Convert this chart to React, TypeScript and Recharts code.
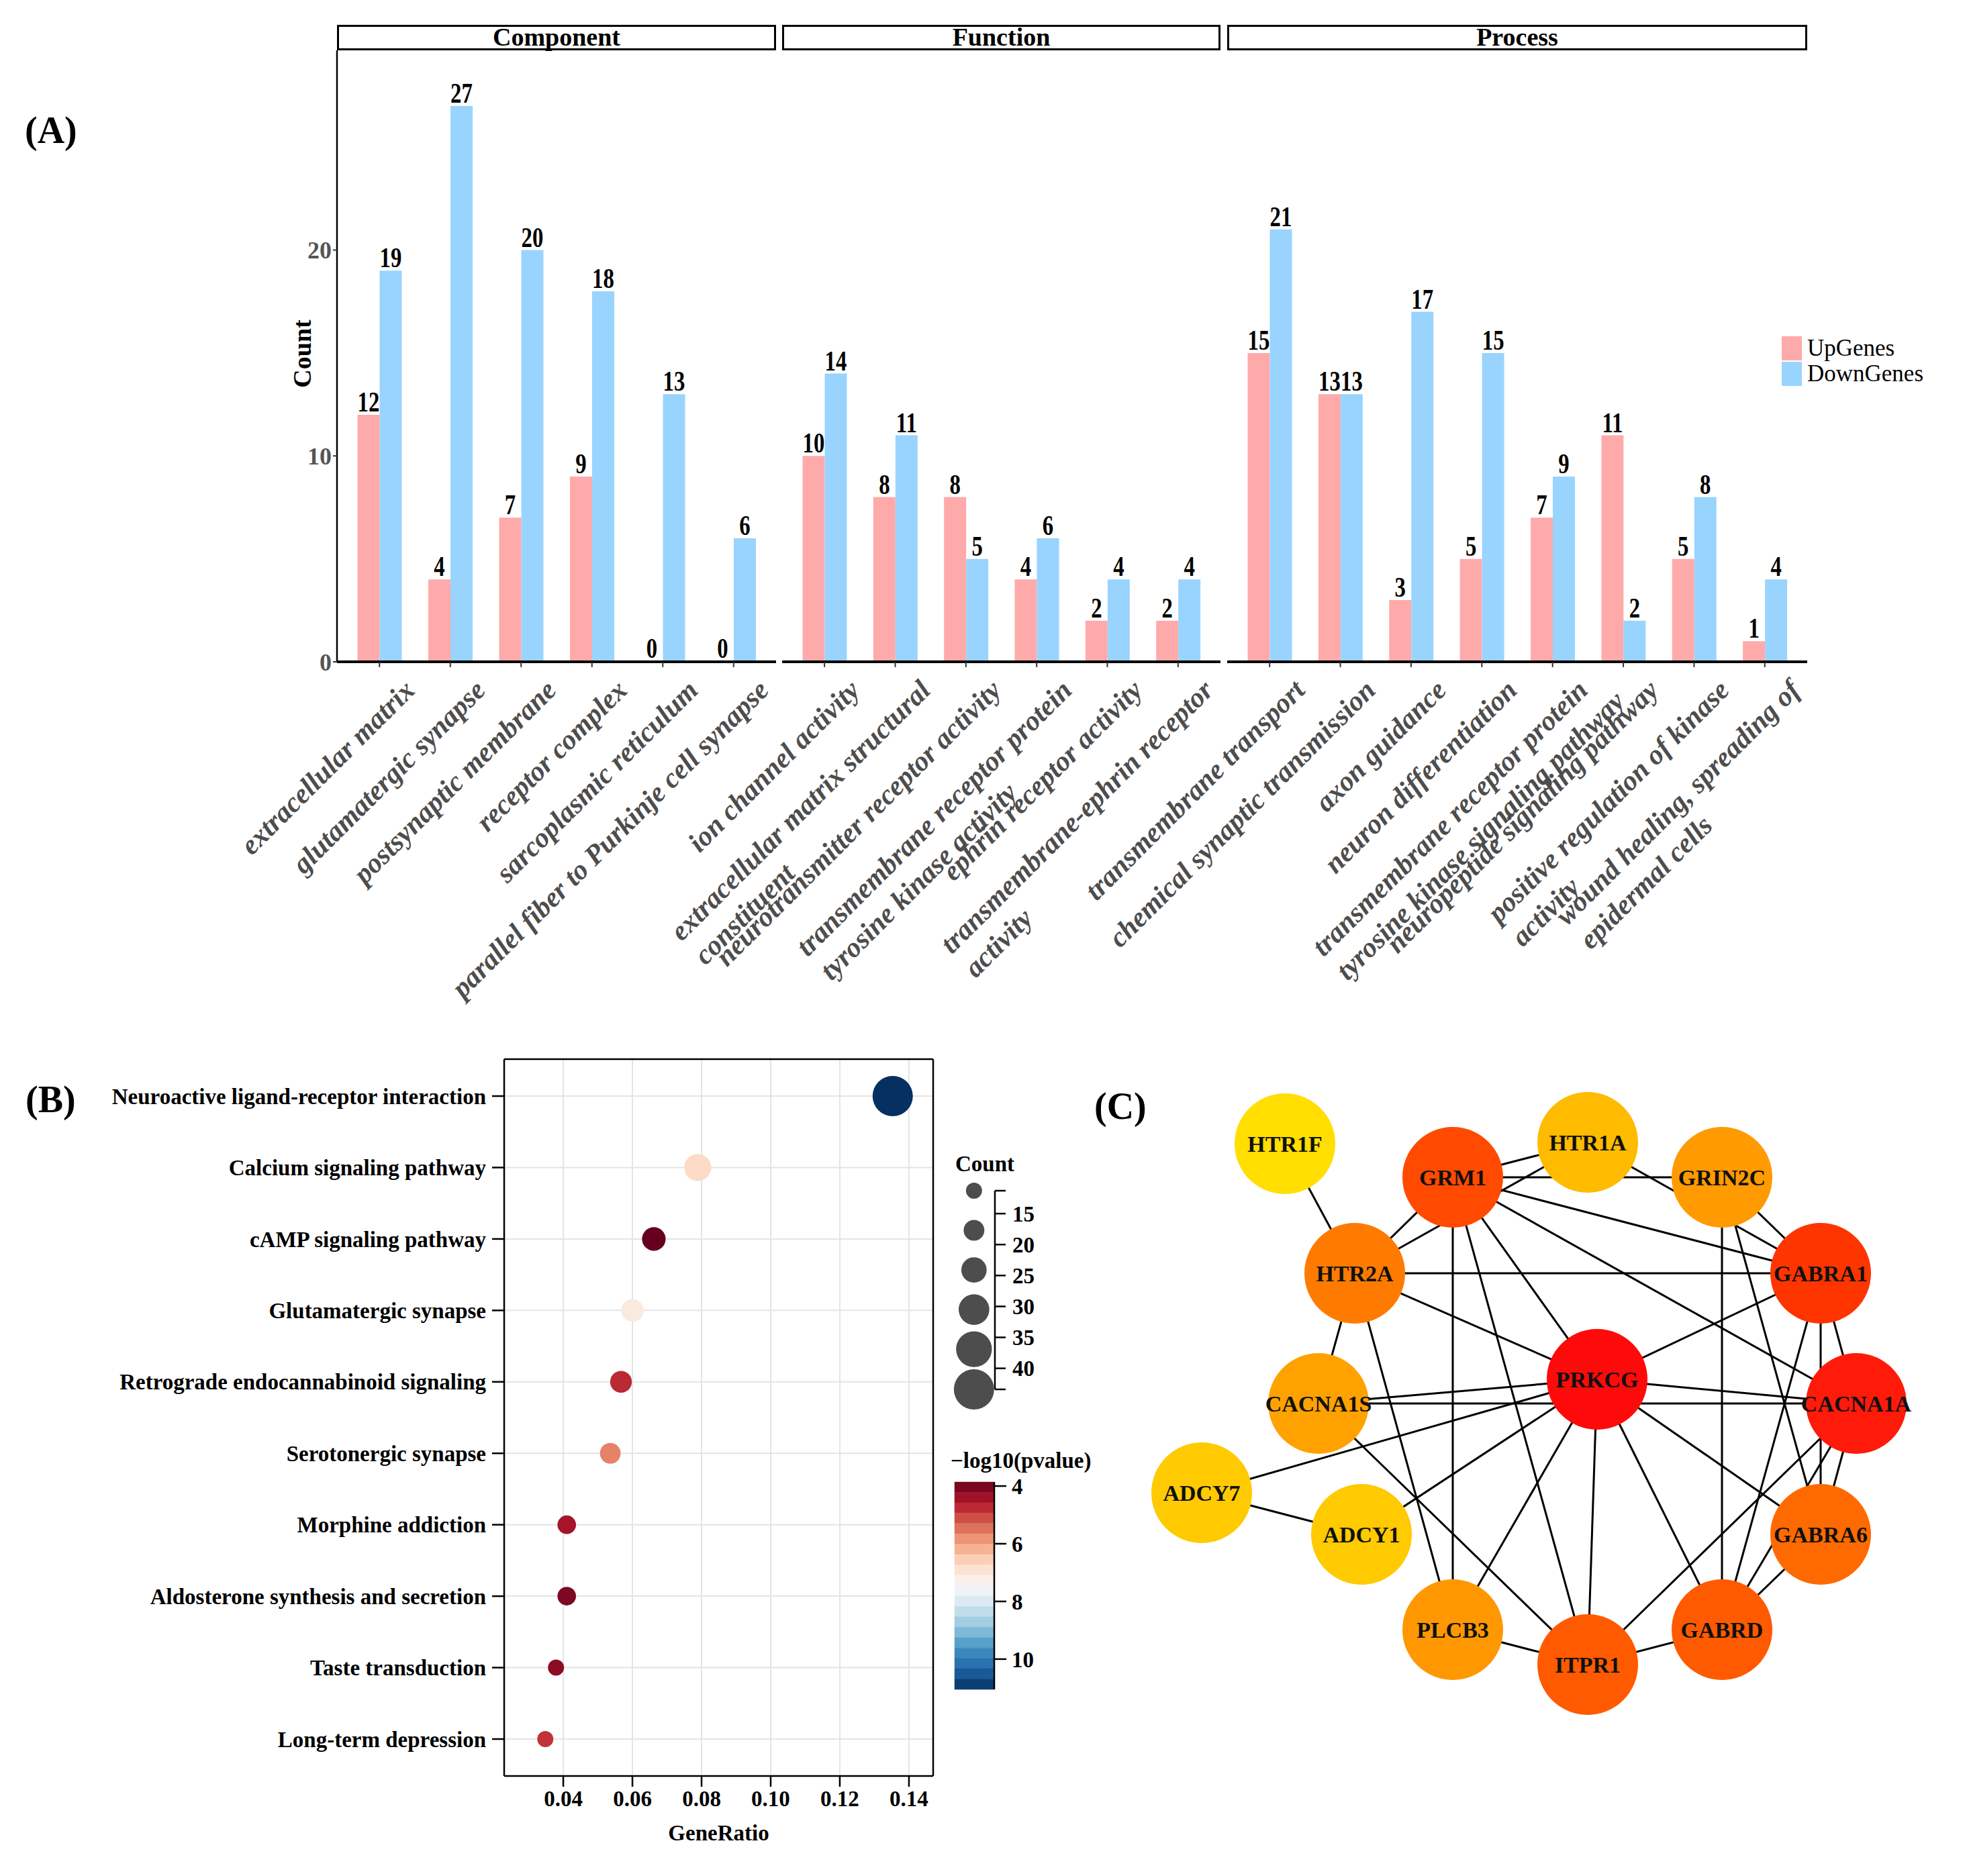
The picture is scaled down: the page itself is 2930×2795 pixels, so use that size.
import React from 'react';
import {
  BarChart, Bar, XAxis, YAxis, LabelList, Legend,
  ScatterChart, Scatter, ZAxis, Cell, CartesianGrid, ReferenceLine, ReferenceArea,
} from 'recharts';

const FONT = '"Liberation Serif", "Times New Roman", serif';

// ---------- (A) GO terms: up / down gene counts ----------
const componentTerms = [
  'extracellular matrix', 'glutamatergic synapse', 'postsynaptic membrane',
  'receptor complex', 'sarcoplasmic reticulum', 'parallel fiber to Purkinje cell synapse',
];
const componentUp = [12, 4, 7, 9, 0, 0];
const componentDown = [19, 27, 20, 18, 13, 6];

const functionTerms = [
  'ion channel activity', 'extracellular matrix structural\nconstituent',
  'neurotransmitter receptor activity', 'transmembrane receptor protein\ntyrosine kinase activity',
  'ephrin receptor activity', 'transmembrane-ephrin receptor\nactivity',
];
const functionUp = [10, 8, 8, 4, 2, 2];
const functionDown = [14, 11, 5, 6, 4, 4];

const processTerms = [
  'transmembrane transport', 'chemical synaptic transmission', 'axon guidance',
  'neuron differentiation', 'transmembrane receptor protein\ntyrosine kinase signaling pathway',
  'neuropeptide signaling pathway', 'positive regulation of kinase\nactivity',
  'wound healing, spreading of\nepidermal cells',
];
const processUp = [15, 13, 3, 5, 7, 11, 5, 1];
const processDown = [21, 13, 17, 15, 9, 2, 8, 4];

const countTicks = [0, 10, 20];
const legendOrder = ['UpGenes', 'DownGenes'];

// ---------- (B) KEGG dot plot ----------
const keggTerms = [
  'Neuroactive ligand-receptor interaction', 'Calcium signaling pathway', 'cAMP signaling pathway',
  'Glutamatergic synapse', 'Retrograde endocannabinoid signaling', 'Serotonergic synapse',
  'Morphine addiction', 'Aldosterone synthesis and secretion', 'Taste transduction', 'Long-term depression',
];
const keggRatio = [0.1353, 0.0789, 0.0662, 0.06, 0.0567, 0.0536, 0.041, 0.041, 0.0379, 0.0348];
const keggCount = [43, 22, 18, 17, 16, 15, 13, 13, 11, 11];
const keggLogP = [11.05, 6.74, 3.86, 7.1, 4.75, 5.65, 4.45, 4.08, 4.22, 4.85];
const ratioTicks = [0.04, 0.06, 0.08, 0.1, 0.12, 0.14];

const sizeLegendPos = [11.3, 17.7, 24.1, 30.5, 36.9, 43.4];
const sizeLegendCount = [11, 15, 20, 27, 35, 43];
const sizeLegendTicks = [11.3, 15, 20, 25, 30, 35, 40, 43.4];
const pTicks = [4, 6, 8, 10];

// ---------- (C) PPI network ----------
const nodeNames = ['HTR1F', 'HTR1A', 'GRM1', 'GRIN2C', 'HTR2A', 'GABRA1', 'PRKCG', 'CACNA1S',
  'CACNA1A', 'ADCY7', 'ADCY1', 'GABRA6', 'PLCB3', 'GABRD', 'ITPR1'];
const nodeX = [214, 665, 464, 865, 318, 1012, 679, 264, 1065, 90, 328, 1012, 464, 865, 665];
const nodeY = [124, 122, 174, 174, 317, 317, 475, 511, 511, 644, 706, 706, 848, 848, 900];
const nodeColors = ['#FFDE00', '#FFBB00', '#FF4A00', '#FF9A00', '#FF7B00', '#FF3500', '#FF0A0A', '#FFA200',
  '#FF1A0A', '#FFCA00', '#FFCA00', '#FF6A00', '#FF9800', '#FF5A00', '#FF5A00'];
const edges: [string, string][] = [
  ['HTR1F', 'HTR2A'], ['GRM1', 'HTR1A'], ['GRM1', 'GRIN2C'], ['GRM1', 'HTR2A'], ['GRM1', 'GABRA1'],
  ['GRM1', 'CACNA1A'], ['GRM1', 'PRKCG'], ['GRM1', 'ITPR1'], ['GRM1', 'PLCB3'], ['HTR2A', 'HTR1A'],
  ['HTR1A', 'GABRA1'], ['HTR2A', 'GABRA1'], ['HTR2A', 'PRKCG'], ['HTR2A', 'CACNA1S'], ['HTR2A', 'PLCB3'],
  ['GRIN2C', 'GABRA1'], ['GRIN2C', 'GABRD'], ['GRIN2C', 'GABRA6'], ['GABRA1', 'PRKCG'], ['GABRA1', 'CACNA1A'],
  ['GABRA1', 'GABRA6'], ['GABRA1', 'GABRD'], ['CACNA1A', 'GABRA6'], ['CACNA1A', 'GABRD'], ['CACNA1A', 'ITPR1'],
  ['GABRA6', 'GABRD'], ['PRKCG', 'CACNA1A'], ['PRKCG', 'CACNA1S'], ['CACNA1S', 'CACNA1A'], ['PRKCG', 'ADCY7'],
  ['PRKCG', 'ADCY1'], ['PRKCG', 'PLCB3'], ['PRKCG', 'ITPR1'], ['PRKCG', 'GABRD'], ['PRKCG', 'GABRA6'],
  ['ADCY7', 'ADCY1'], ['CACNA1S', 'ITPR1'], ['PLCB3', 'ITPR1'], ['ITPR1', 'GABRD'],
];

// RdBu palette for -log10(pvalue)
const RDBU = ['#67001F', '#B2182B', '#D6604D', '#F4A582', '#FDDBC7', '#F7F7F7',
  '#D1E5F0', '#92C5DE', '#4393C3', '#2166AC', '#053061'];
const P_MIN = 3.86;
const P_MAX = 11.05;
const hexRgb = (c: string) => [1, 3, 5].map((i) => parseInt(c.slice(i, i + 2), 16));
function rdbu(t: number) {
  const s = Math.min(Math.max(t, 0), 1) * (RDBU.length - 1);
  const i = Math.min(Math.floor(s), RDBU.length - 2);
  const f = s - i;
  const a = hexRgb(RDBU[i]);
  const b = hexRgb(RDBU[i + 1]);
  return `rgb(${a.map((v, k) => Math.round(v + (b[k] - v) * f)).join(',')})`;
}
const pColor = (p: number) => rdbu((p - P_MIN) / (P_MAX - P_MIN));

const NBIN = 20;
const cbBands = Array.from({ length: NBIN }, (_, i) => {
  const step = (P_MAX - P_MIN) / NBIN;
  return { x: 0.5, lo: P_MIN + i * step, hi: P_MIN + (i + 1) * step, mid: P_MIN + (i + 0.5) * step, color: rdbu((i + 0.5) / NBIN) };
});

let measureCtx: CanvasRenderingContext2D | null = null;
function textWidth(s: string, font: string) {
  if (!measureCtx) measureCtx = document.createElement('canvas').getContext('2d');
  if (!measureCtx) return s.length * 18;
  measureCtx.font = font;
  return measureCtx.measureText(s).width;
}

const TICK_FONT = 42;
function TermTick(props: any) {
  const { x, y, payload } = props;
  const lines = String(payload.value).split('\n');
  const w = textWidth(lines[0], `italic bold ${TICK_FONT}px ${FONT}`);
  return (
    <g transform={`translate(${x + 34},${y + 14}) rotate(-45)`}>
      {lines.map((ln, i) => (
        <text
          key={i}
          x={i === 0 ? 0 : -w}
          y={TICK_FONT * 0.7 + i * TICK_FONT * 1.2}
          textAnchor={i === 0 ? 'end' : 'start'}
          fontFamily={FONT}
          fontStyle="italic"
          fontWeight="bold"
          fontSize={TICK_FONT}
          fill="#4D4D4D"
        >
          {ln}
        </text>
      ))}
    </g>
  );
}

// value label above each bar, slightly condensed like the original figure
function BarValue(props: any) {
  const { x, y, width, value } = props;
  if (value === undefined || value === null) return null;
  return (
    <text
      transform={`translate(${Number(x) + Number(width) / 2},${Number(y) - 5}) scale(0.78,1)`}
      textAnchor="middle"
      fontFamily={FONT}
      fontWeight="bold"
      fontSize={42}
      fill="#000"
    >
      {value}
    </text>
  );
}

const GeneLegend = ({ payload }: any) => {
  const items = [...(payload || [])].sort(
    (a: any, b: any) => legendOrder.indexOf(a.value) - legendOrder.indexOf(b.value),
  );
  return (
    <div style={{ fontFamily: FONT }}>
      {items.map((e: any) => (
        <div key={e.value} style={{ display: 'flex', alignItems: 'center', height: 38 }}>
          <span style={{ display: 'inline-block', width: 30, height: 36, background: e.color }} />
          <span style={{ fontSize: 35, marginLeft: 8, lineHeight: '38px', height: 38, color: '#000' }}>{e.value}</span>
        </div>
      ))}
    </div>
  );
};

const PLOT_TOP = 75;
const PLOT_H = 911;
const Y_MAX = 29.7;

function Facet(props: {
  title: string; terms: string[]; up: number[]; down: number[];
  left: number; plotLeft: number; plotW: number; showY?: boolean; legend?: boolean;
}) {
  const { title, terms, up, down, left, plotLeft, plotW, showY, legend } = props;
  const data = terms.map((t, i) => ({ term: t, up: up[i], down: down[i] }));
  const yW = showY ? 90 : 0;
  const mL = plotLeft - left - yW;
  const mR = legend ? 230 : 0;
  return (
    <>
      <div style={{
        position: 'absolute', left: plotLeft, top: 37, width: plotW, height: 38, boxSizing: 'border-box',
        border: '3.5px solid #000', fontFamily: FONT, fontWeight: 'bold', fontSize: 38, lineHeight: '31px',
        textAlign: 'center', whiteSpace: 'nowrap',
      }}>{title}</div>
      <div style={{ position: 'absolute', left, top: PLOT_TOP }}>
        <BarChart
          width={mL + yW + plotW + mR}
          height={PLOT_H + 554}
          data={data}
          margin={{ top: 0, right: mR, bottom: 0, left: mL }}
          barCategoryGap={20}
          barGap={0}
        >
          <XAxis
            dataKey="term"
            interval={0}
            height={554}
            tick={<TermTick />}
            tickSize={8}
            tickLine={{ stroke: '#333', strokeWidth: 2 }}
            axisLine={{ stroke: '#000', strokeWidth: 4 }}
            padding={{ left: 10.5, right: 10.5 }}
          />
          <YAxis
            hide={!showY}
            width={yW}
            domain={[0, Y_MAX]}
            ticks={countTicks}
            tickSize={6}
            tickLine={{ stroke: '#333', strokeWidth: 2 }}
            axisLine={{ stroke: '#000', strokeWidth: 2.5 }}
            tick={{ fontFamily: FONT, fontWeight: 'bold', fontSize: 36, fill: '#555' }}
          />
          {legend && (
            <Legend
              layout="horizontal"
              verticalAlign="middle"
              align="center"
              content={<GeneLegend />}
              wrapperStyle={{ position: 'absolute', left: 2654 - 1828, top: 500 - PLOT_TOP, width: 240 }}
            />
          )}
          <Bar dataKey="up" name="UpGenes" fill="#FFAAAA" minPointSize={1} isAnimationActive={false}>
            <LabelList dataKey="up" content={<BarValue />} />
          </Bar>
          <Bar dataKey="down" name="DownGenes" fill="#99D4FF" minPointSize={1} isAnimationActive={false}>
            <LabelList dataKey="down" content={<BarValue />} />
          </Bar>
        </BarChart>
      </div>
    </>
  );
}

const TXT = (p: { x: number; y: number; size: number; children: React.ReactNode }) => (
  <div style={{
    position: 'absolute', left: p.x, top: p.y, fontFamily: FONT, fontWeight: 'bold',
    fontSize: p.size, lineHeight: 1, whiteSpace: 'nowrap', color: '#000',
  }}>{p.children}</div>
);

function KeggDots() {
  const data = keggTerms.map((t, i) => ({ idx: i + 1, ratio: keggRatio[i], count: keggCount[i], p: keggLogP[i] }));
  const tickStyle = { fontFamily: FONT, fontWeight: 'bold', fontSize: 33, fill: '#000' };
  return (
    <div style={{ position: 'absolute', left: 140, top: 1560 }}>
      <ScatterChart width={1260} height={1196} margin={{ top: 18, right: 10, bottom: 0, left: 0 }}>
        <CartesianGrid stroke="#E4E4E4" strokeWidth={2} />
        <XAxis
          type="number"
          dataKey="ratio"
          domain={[0.0229, 0.147]}
          ticks={ratioTicks}
          interval={0}
          tickFormatter={(v: number) => v.toFixed(2)}
          height={110}
          tickSize={16}
          tickMargin={6}
          tick={tickStyle}
          tickLine={{ stroke: '#000', strokeWidth: 2.5 }}
          axisLine={{ stroke: '#000', strokeWidth: 2.5 }}
          label={{ value: 'GeneRatio', position: 'insideBottom', offset: 14, style: tickStyle }}
        />
        <YAxis
          type="number"
          dataKey="idx"
          domain={[0.483, 10.517]}
          reversed
          ticks={keggTerms.map((_, i) => i + 1)}
          interval={0}
          tickFormatter={(v: number) => keggTerms[v - 1] ?? ''}
          width={611}
          tickSize={18}
          tickMargin={9}
          tick={tickStyle}
          tickLine={{ stroke: '#000', strokeWidth: 2.5 }}
          axisLine={{ stroke: '#000', strokeWidth: 2.5 }}
        />
        <ZAxis type="number" dataKey="count" domain={[11, 43]} range={[452, 2827]} />
        <ReferenceLine y={0.483} stroke="#000" strokeWidth={2.5} />
        <ReferenceLine x={0.147} stroke="#000" strokeWidth={2.5} />
        <Scatter data={data} isAnimationActive={false}>
          {data.map((d, i) => <Cell key={i} fill={pColor(d.p)} />)}
        </Scatter>
      </ScatterChart>
    </div>
  );
}

function SizeLegend() {
  const data = sizeLegendPos.map((pos, i) => ({ x: 0.62, pos, count: sizeLegendCount[i] }));
  return (
    <div style={{ position: 'absolute', left: 1400, top: 1774 }}>
      <ScatterChart width={152} height={296} margin={{ top: 0, right: 0, bottom: 0, left: 0 }}>
        <XAxis type="number" dataKey="x" domain={[0, 1]} hide />
        <YAxis
          type="number"
          dataKey="pos"
          orientation="right"
          domain={[11.3, 43.4]}
          reversed
          ticks={sizeLegendTicks}
          interval={0}
          tickFormatter={(v: number) => (Number.isInteger(v) ? String(v) : '')}
          width={70}
          tickSize={16}
          tickMargin={10}
          tick={{ fontFamily: FONT, fontWeight: 'bold', fontSize: 33, fill: '#000' }}
          tickLine={{ stroke: '#000', strokeWidth: 2.5 }}
          axisLine={{ stroke: '#000', strokeWidth: 2.5 }}
        />
        <ZAxis type="number" dataKey="count" domain={[11, 43]} range={[452, 2827]} />
        <Scatter data={data} fill="#4D4D4D" isAnimationActive={false} />
      </ScatterChart>
    </div>
  );
}

function ColorBar() {
  return (
    <div style={{ position: 'absolute', left: 1422, top: 2208 }}>
      <ScatterChart width={129} height={309} margin={{ top: 0, right: 0, bottom: 0, left: 0 }}>
        <XAxis type="number" dataKey="x" domain={[0, 1]} hide />
        <YAxis
          type="number"
          dataKey="mid"
          orientation="right"
          domain={[P_MIN, P_MAX]}
          reversed
          ticks={pTicks}
          interval={0}
          width={70}
          tickSize={18}
          tickMargin={8}
          tick={{ fontFamily: FONT, fontWeight: 'bold', fontSize: 33, fill: '#000' }}
          tickLine={{ stroke: '#000', strokeWidth: 2.5 }}
          axisLine={{ stroke: '#000', strokeWidth: 2.5 }}
        />
        {cbBands.map((b, i) => (
          <ReferenceArea key={i} x1={0} x2={1} y1={b.lo} y2={b.hi} fill={b.color} fillOpacity={1}
            stroke={b.color} strokeWidth={0.5} ifOverflow="visible" />
        ))}
        <Scatter data={cbBands} shape={() => <g />} isAnimationActive={false} />
      </ScatterChart>
    </div>
  );
}

const NodeShape = (p: any) => (
  <g>
    <circle cx={p.cx} cy={p.cy} r={75} fill={p.payload.color} />
    <text x={p.cx} y={p.cy} dy="0.35em" textAnchor="middle" fontFamily={FONT} fontWeight="bold" fontSize={34} fill="#111">
      {p.payload.name}
    </text>
  </g>
);

function Network() {
  const nodes = nodeNames.map((name, i) => ({ name, x: nodeX[i], y: nodeY[i], color: nodeColors[i] }));
  const byName = Object.fromEntries(nodes.map((n) => [n.name, n]));
  return (
    <div style={{ position: 'absolute', left: 1700, top: 1580 }}>
      <ScatterChart width={1230} height={1000} margin={{ top: 0, right: 0, bottom: 0, left: 0 }}>
        <XAxis type="number" dataKey="x" domain={[0, 1230]} hide />
        <YAxis type="number" dataKey="y" domain={[0, 1000]} reversed hide />
        {edges.map(([a, b], i) => (
          <Scatter
            key={i}
            data={[byName[a], byName[b]]}
            line={{ stroke: '#000', strokeWidth: 3 }}
            shape={() => <g />}
            isAnimationActive={false}
          />
        ))}
        <Scatter data={nodes} shape={NodeShape} isAnimationActive={false} />
      </ScatterChart>
    </div>
  );
}

export default function App() {
  return (
    <div style={{ position: 'relative', width: 2930, height: 2795, background: '#fff', overflow: 'hidden' }}>
      <style>{`body{margin:0} .recharts-surface, .recharts-wrapper{overflow:visible !important}`}</style>

      <TXT x={37} y={166} size={56}>(A)</TXT>
      <div style={{
        position: 'absolute', left: 350, top: 507, width: 200, height: 40, textAlign: 'center',
        transform: 'rotate(-90deg)', fontFamily: FONT, fontWeight: 'bold', fontSize: 38, lineHeight: '40px',
      }}>Count</div>

      <Facet title="Component" terms={componentTerms} up={componentUp} down={componentDown}
        left={300} plotLeft={502} plotW={654} showY />
      <Facet title="Function" terms={functionTerms} up={functionUp} down={functionDown}
        left={1165} plotLeft={1165} plotW={653} />
      <Facet title="Process" terms={processTerms} up={processUp} down={processDown}
        left={1828} plotLeft={1828} plotW={864} legend />

      <TXT x={38} y={1610} size={56}>(B)</TXT>
      <KeggDots />
      <TXT x={1423} y={1718} size={33}>Count</TXT>
      <SizeLegend />
      <TXT x={1416} y={2160} size={33}>{'\u2212log10(pvalue)'}</TXT>
      <ColorBar />

      <TXT x={1630} y={1620} size={56}>(C)</TXT>
      <Network />
    </div>
  );
}
